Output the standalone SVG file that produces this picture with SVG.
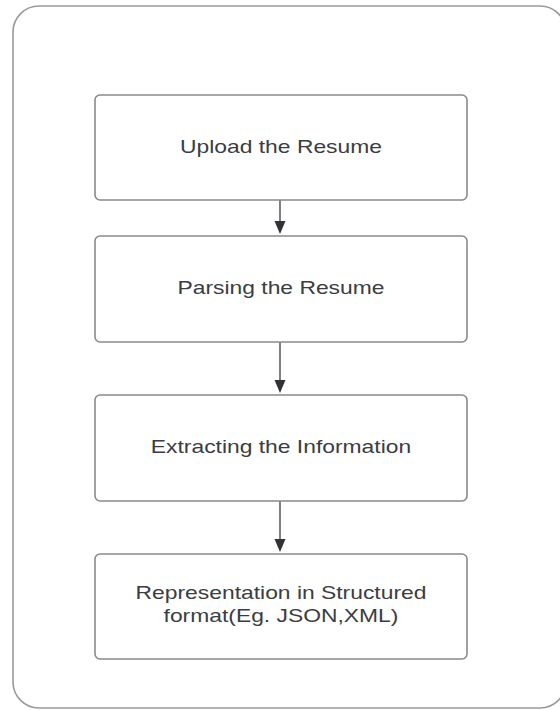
<svg xmlns="http://www.w3.org/2000/svg" width="560" height="710" viewBox="0 0 560 710">
<style>
.frame{fill:#ffffff;stroke:#9a9a9a;stroke-width:1.6}
.box{fill:#ffffff;stroke:#8a8a8a;stroke-width:1.6}
.lbl{font-family:"Liberation Sans",Arial,sans-serif;font-size:18px;fill:#3a3d42;text-anchor:middle}
.edge{stroke:#3a3d42;stroke-width:1.3;fill:none}
.head{fill:#2f3237}
</style>
<rect width="560" height="710" fill="#ffffff"/>
<rect class="frame" x="13" y="6" width="553" height="702" rx="26"/>
<g id="connectors">
<line class="edge" x1="280" y1="200" x2="280" y2="222"/>
<path class="head" d="M274.5,221 L285.5,221 L280,234 Z"/>
<line class="edge" x1="280" y1="342" x2="280" y2="381"/>
<path class="head" d="M274.5,380 L285.5,380 L280,393 Z"/>
<line class="edge" x1="280" y1="501" x2="280" y2="540"/>
<path class="head" d="M274.5,539 L285.5,539 L280,552 Z"/>
</g>
<g id="n1">
<rect class="box" x="95" y="95" width="372" height="105" rx="5"/>
<text class="lbl" transform="translate(281,153) scale(1.27,1)">Upload the Resume</text>
</g>
<g id="n2">
<rect class="box" x="95" y="236" width="372" height="106" rx="5"/>
<text class="lbl" transform="translate(281,294) scale(1.27,1)">Parsing the Resume</text>
</g>
<g id="n3">
<rect class="box" x="95" y="395" width="372" height="106" rx="5"/>
<text class="lbl" transform="translate(281,453) scale(1.27,1)">Extracting the Information</text>
</g>
<g id="n4">
<rect class="box" x="95" y="554" width="372" height="105" rx="5"/>
<text class="lbl" transform="translate(281,599) scale(1.27,1)">Representation in Structured</text>
<text class="lbl" transform="translate(281,622) scale(1.27,1)">format(Eg. JSON,XML)</text>
</g>
</svg>
